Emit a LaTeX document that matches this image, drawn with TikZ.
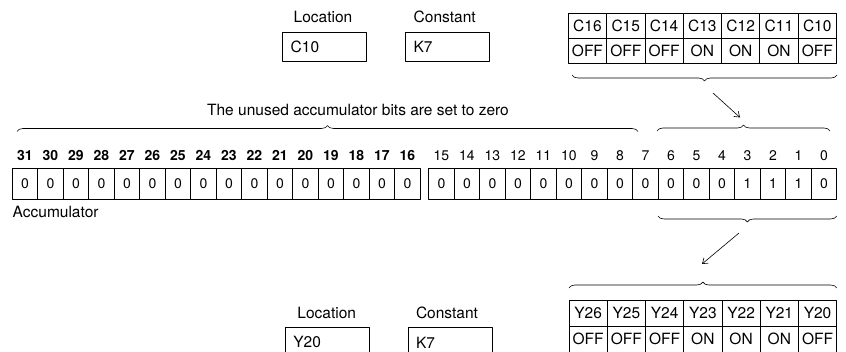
\documentclass[tikz,border=0pt]{standalone}
\usepackage{fontspec}
\setmainfont{TeX Gyre Heros}
\usetikzlibrary{arrows.meta,decorations.pathreplacing}
\begin{document}
\begin{tikzpicture}[x=1pt,y=-1pt,line cap=round,line join=round,>={Straight Barb[length=5pt,width=7pt]},
  txt/.style={font=\fontsize{15.5}{18}\selectfont},
  cell/.style={draw,line width=0.8pt,minimum width=25.5pt,minimum height=31pt,inner sep=0pt,font=\fontsize{14}{16}\selectfont},
  bitnum/.style={inner sep=0pt,font=\fontsize{14}{16}\selectfont},
  iocell/.style={draw,line width=0.8pt,minimum width=38.3pt,minimum height=25pt,inner sep=0pt,txt},
  regbox/.style={draw,line width=0.8pt,minimum height=29.4pt,text width=68pt,inner xsep=8pt,inner ysep=0pt,align=left,txt},
  lbl/.style={inner sep=0pt,txt},
  brace/.style={decorate,decoration={brace,amplitude=6pt},line width=0.6pt},
  mbrace/.style={decorate,decoration={brace,mirror,amplitude=6pt},line width=0.6pt}]
  \clip (0,0) rectangle (846,352);
  % source: control relays
  \node[lbl] (loclbl) at (323,17.3) {Location};
  \node[lbl] (constlbl) at (444.7,17.3) {Constant};
  \node[regbox] (loc) at (324.7,47) {C10};
  \node[regbox] (const) at (447.5,47) {K7};
  \foreach \n/\s [count=\j from 0] in {16/OFF,15/OFF,14/OFF,13/ON,12/ON,11/ON,10/OFF} {
    \node[iocell] (c\n) at ({568.3+(\j+0.5)*38.3},25.8) {C\n};
    \node[iocell] (cs\n) at ({568.3+(\j+0.5)*38.3},50.8) {\s};
  }
  \draw[mbrace] (572,75) -- (837,75);
  \coordinate (arrAs) at (713,93);
  \coordinate (arrAe) at (740,117.5);
  \draw[->,line width=0.6pt] (arrAs) -- (arrAe);
  % accumulator
  \node[lbl] (unused) at (358,110) {The unused accumulator bits are set to zero};
  \draw[brace] (17,131.5) -- (638,131.5);
  \draw[brace] (657,131) -- (830,131);
  \foreach \b [count=\i from 0] in {0,1,1,1,0,0,0,0,0,0,0,0,0,0,0,0} {
    \node[cell] (acc\i) at ({836.7-(\i+0.5)*25.5},183.5) {\b};
    \node[bitnum] (num\i) at ({836.7-(\i+0.5)*25.5},155.5) {\i};
  }
  \foreach \i in {16,...,31} {
    \node[cell] (acc\i) at ({420.2-(\i-15.5)*25.5},183.5) {0};
    \node[bitnum,font=\fontsize{14}{16}\selectfont\bfseries] (num\i) at ({420.2-(\i-15.5)*25.5},155.5) {\i};
  }
  \node[lbl,anchor=west] (acclbl) at (12.5,211.5) {Accumulator};
  \draw[mbrace] (658,216) -- (836.7,216);
  \coordinate (arrBs) at (739,233);
  \coordinate (arrBe) at (702,264);
  \draw[->,line width=0.6pt] (arrBs) -- (arrBe);
  % destination: output points
  \draw[brace] (569,288) -- (836.7,288);
  \node[lbl] (loclbl2) at (326.7,313.3) {Location};
  \node[lbl] (constlbl2) at (447,313.3) {Constant};
  \node[regbox] (loc2) at (327.35,342.4) {Y20};
  \node[regbox] (const2) at (450,342.4) {K7};
  \foreach \n/\s [count=\j from 0] in {26/OFF,25/OFF,24/OFF,23/ON,22/ON,21/ON,20/OFF} {
    \node[iocell,minimum width=38.24pt,minimum height=26pt] (y\n) at ({569+(\j+0.5)*38.24},313) {Y\n};
    \node[iocell,minimum width=38.24pt,minimum height=26pt] (ys\n) at ({569+(\j+0.5)*38.24},339) {\s};
  }
\end{tikzpicture}
\end{document}
